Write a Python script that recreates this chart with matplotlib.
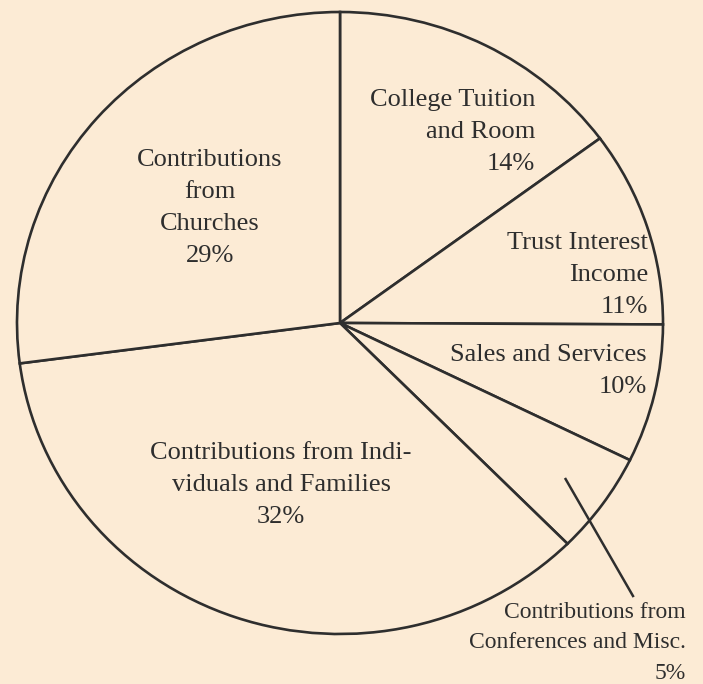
import matplotlib.pyplot as plt
import numpy as np

# wedge shares as drawn (clockwise from 12 o'clock), and the printed labels
names = ["College Tuition\nand Room", "Trust Interest\nIncome", "Sales and Services",
         "Contributions from\nConferences and Misc.", "Contributions from Indi-\nviduals and Families",
         "Contributions\nfrom\nChurches"]
printed = ["14%", "11%", "10%", "5%", "32%", "29%"]
drawn = [14.9, 10.2, 7.2, 5.3, 35.4, 27.1]

bg = "#fcebd5"
ink = "#2e2e2e"
W, H = 703, 684

fig = plt.figure(figsize=(W / 100, H / 100), dpi=100, facecolor=bg)
ax = fig.add_axes([0, 0, 1, 1], facecolor=bg)

wedges, _ = ax.pie(drawn, startangle=90, counterclock=False, radius=1,
                   colors=[bg] * len(drawn),
                   wedgeprops=dict(edgecolor=ink, linewidth=1.9))
for w in wedges:
    w.set_clip_on(False)

# pie centre at pixel (340, 323), slightly wider than tall like the scan
cx, cy, rx, ry = 340, 323, 323, 311
ax.set_aspect("auto")
ax.set_xlim(-cx / rx, (W - cx) / rx)
ax.set_ylim(-(H - cy) / ry, cy / ry)
ax.axis("off")

font = dict(family="Liberation Serif", color=ink)

def fx(x):
    return x / W

def fy(y):
    return 1 - y / H

labels = [n + "\n" + p for n, p in zip(names, printed)]
# (x, y, ha) in pixels for each label block
spots = [(535, 132, "right"), (648, 275, "right"), (647, 371, "right"),
         (686, 643, "right"), (281, 485, "center"), (210, 208, "center")]
sizes = [19, 19, 19, 17, 19, 19]
for lab, (x, y, ha), s in zip(labels, spots, sizes):
    fig.text(fx(x), fy(y), lab, ha=ha, va="center", multialignment=ha,
             fontsize=s, linespacing=1.58 if s == 19 else 1.6, **font)

# leader line for the small conference wedge
w = wedges[3]
mid = np.deg2rad((w.theta1 + w.theta2) / 2)
start = (0.86 * np.cos(mid), 0.86 * np.sin(mid))
end = ((633 - cx) / rx, (cy - 596) / ry)
ax.plot([start[0], end[0]], [start[1], end[1]], color=ink, lw=1.8, clip_on=False)

fig.savefig("out.png", dpi=100, facecolor=bg)
